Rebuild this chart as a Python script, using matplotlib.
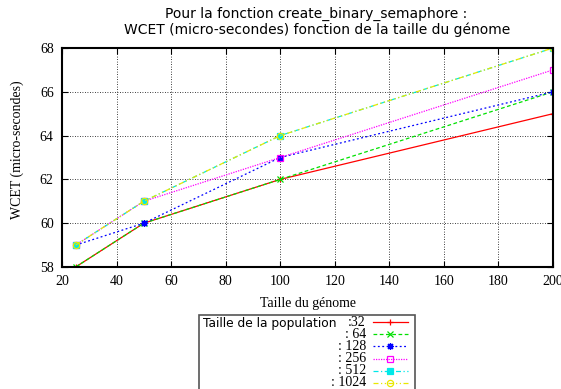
import matplotlib
matplotlib.use("Agg")
import matplotlib.pyplot as plt
from matplotlib.lines import Line2D
from matplotlib.patches import Rectangle

# --- data ---
genome_sizes = [25, 50, 100, 200]
populations = ["32", "64", "128", "256", "512", "1024"]
legend_labels = [":32", ": 64", ": 128", ": 256", ": 512", ": 1024"]
wcet_32 = [58, 60, 62, 65]
wcet_64 = [58, 60, 62, 66]
wcet_128 = [59, 60, 63, 66]
wcet_256 = [59, 61, 63, 67]
wcet_512 = [59, 61, 64, 68]
wcet_1024 = [59, 61, 64, 68]
series = [wcet_32, wcet_64, wcet_128, wcet_256, wcet_512, wcet_1024]

x_ticks = [20, 40, 60, 80, 100, 120, 140, 160, 180, 200]
y_ticks = [58, 60, 62, 64, 66, 68]

# gnuplot-like styles
styles = [
    dict(color="#ff0000", linestyle="-", marker="+", mfc="none", ms=5),
    dict(color="#00e000", linestyle=(0, (3, 2)), marker="x", mfc="none", ms=4),
    dict(color="#0000ff", linestyle=(0, (1.5, 2)), marker=(8, 2, 0), mfc="none", ms=5),
    dict(color="#ff00ff", linestyle=(0, (1, 1)), marker="s", mfc="none", ms=4.5),
    dict(color="#00e8e8", linestyle=(0, (4, 2, 1, 2)), marker="s", mfc="#00e8e8", ms=4.5),
    dict(color="#e8e800", linestyle=(0, (4, 2, 1, 2, 1, 2)), marker="o", mfc="none", ms=4.5),
]

W, H = 561, 389
fig = plt.figure(figsize=(W / 100, H / 100), dpi=100)


def fx(px):
    return px / W


def fy(py):
    return 1 - py / H


left, right, top, bottom = 62, 553, 48, 267
ax = fig.add_axes([fx(left), fy(bottom), fx(right - left), (bottom - top) / H])

for vals, st in zip(series, styles):
    ax.plot(genome_sizes, vals, linewidth=0.9, markeredgewidth=0.9, **st)

ax.set_xlim(20, 200)
ax.set_ylim(58, 68)
ax.set_xticks(x_ticks)
ax.set_yticks(y_ticks)
ax.grid(True, color="black", linestyle=(0, (1, 2)), linewidth=0.6)
ax.tick_params(direction="in", top=True, right=True, length=4, width=0.8,
               labelsize=10, pad=6)
for lab in ax.get_xticklabels() + ax.get_yticklabels():
    lab.set_fontfamily("Liberation Serif")
for sp in ax.spines.values():
    sp.set_linewidth(1.5)

ax.set_xlabel("Taille du génome", fontfamily="Liberation Serif", fontsize=10, labelpad=6)
fig.text(fx(17), fy(150), "WCET (micro-secondes)", rotation=90, ha="center", va="center",
         fontfamily="Liberation Serif", fontsize=10)

fig.text(fx(316), fy(14), "Pour la fonction create_binary_semaphore :", ha="center",
         va="center", fontsize=10)
fig.text(fx(317), fy(30), "WCET (micro-secondes) fonction de la taille du génome",
         ha="center", va="center", fontsize=10)

# --- gnuplot style legend below the plot ---
box_l, box_r, box_t = 199, 415, 315
fig.add_artist(Rectangle((fx(box_l), fy(H + 5)), fx(box_r - box_l), (H + 5 - box_t) / H,
                         transform=fig.transFigure, fill=False, edgecolor="#555555",
                         linewidth=1.2))
fig.text(fx(203), fy(324), "Taille de la population", ha="left", va="center", fontsize=8.8)
row0, row_step = 322, 12.2
for i, (lab, st) in enumerate(zip(legend_labels, styles)):
    yy = fy(row0 + i * row_step)
    fig.text(fx(366), yy, lab, ha="right", va="center",
             fontfamily="Liberation Serif", fontsize=10)
    fig.add_artist(Line2D([fx(373), fx(408)], [yy, yy], transform=fig.transFigure,
                          linewidth=0.9, color=st["color"], linestyle=st["linestyle"]))
    fig.add_artist(Line2D([fx(390)], [yy], transform=fig.transFigure, linestyle="none",
                          marker=st["marker"], mfc=st["mfc"], ms=st["ms"],
                          color=st["color"], markeredgewidth=0.9))

fig.savefig("out.png", dpi=100)
